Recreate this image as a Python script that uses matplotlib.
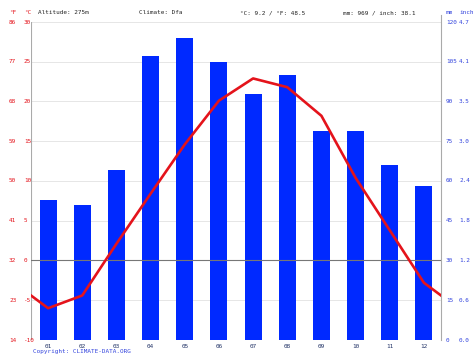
import numpy as np
import matplotlib
matplotlib.use("Agg")
import matplotlib.pyplot as plt

# monthly climate values
months = ["01", "02", "03", "04", "05", "06", "07", "08", "09", "10", "11", "12"]
precip_mm = [53, 51, 64, 107, 114, 105, 93, 100, 79, 79, 66, 58]
temp_c = [-6.0, -4.4, 2.1, 8.4, 14.6, 20.1, 22.9, 21.8, 18.2, 10.4, 3.8, -2.8]

c_ticks = [-10, -5, 0, 5, 10, 15, 20, 25, 30]
f_labels = ["14", "23", "32", "41", "50", "59", "68", "77", "86"]
mm_ticks = [0, 15, 30, 45, 60, 75, 90, 105, 120]
inch_labels = ["0.0", "0.6", "1.2", "1.8", "2.4", "3.0", "3.5", "4.1", "4.7"]

header = ["Altitude: 275m", "Climate: Dfa", "°C: 9.2 / °F: 48.5", "mm: 969 / inch: 38.1"]

RED = "#e4131b"
BLUE = "#0029ff"
LBLUE = "#3344dd"
FONT = "DejaVu Sans Mono"
FS = 4.3

fig = plt.figure(figsize=(4.74, 3.55), dpi=100, facecolor="white")
axp = fig.add_axes([31 / 474, 1 - 340 / 355, 410 / 474, 318 / 355])
axt = axp.twinx()
axp.set_zorder(1)
axt.set_zorder(2)
axt.patch.set_visible(False)

x = np.arange(1, 13)
axp.bar(x, precip_mm, width=0.5, color=BLUE, zorder=2)
axp.set_ylim(0, 120)
axp.set_xlim(0.5, 12.5)

# wrap the line round the year so it reaches both edges
xt = np.concatenate(([0], x, [13]))
yt = np.concatenate(([temp_c[-1]], temp_c, [temp_c[0]]))
axt.plot(xt, yt, color=RED, lw=1.9, solid_joinstyle="round", zorder=3)
axt.set_ylim(-10, 30)
axt.set_xlim(0.5, 12.5)

for ax in (axp, axt):
    ax.set_yticks([])
    ax.tick_params(length=0)
    for s in ax.spines.values():
        s.set_visible(False)

# grid lines
for c in c_ticks:
    if c == 0:
        axt.axhline(c, color="#777777", lw=0.8, zorder=1)
    else:
        axp.axhline((c + 10) * 3, color="#e2e2e2", lw=0.6, zorder=0)
axp.axvline(0.5, color="#aaaaaa", lw=0.8)
axp.plot([12.5, 12.5], [0, 122.5], color="#aaaaaa", lw=0.8, clip_on=False)

axp.set_xticks(x)
axp.set_xticklabels(months, fontsize=FS, family=FONT, color="#223366")
axp.tick_params(axis="x", pad=3)

# left labels (°F, °C) and right labels (mm, inch)
for c, f in zip(c_ticks, f_labels):
    yf = 1 - (340 - (c + 10) * 7.95) / 355
    fig.text(9 / 474, yf, f, fontsize=FS, family=FONT, color=RED, va="center")
    fig.text(24 / 474, yf, str(c), fontsize=FS, family=FONT, color=RED, va="center")
for m, i in zip(mm_ticks, inch_labels):
    yf = 1 - (340 - m * 2.65) / 355
    fig.text(446 / 474, yf, str(m), fontsize=FS, family=FONT, color=LBLUE, va="center")
    fig.text(459 / 474, yf, i, fontsize=FS, family=FONT, color=LBLUE, va="center")

ytop = 1 - 13 / 355
fig.text(9 / 474, ytop, "°F", fontsize=FS, family=FONT, color=RED, va="center")
fig.text(24 / 474, ytop, "°C", fontsize=FS, family=FONT, color=RED, va="center")
fig.text(446 / 474, ytop, "mm", fontsize=FS, family=FONT, color=LBLUE, va="center")
fig.text(459 / 474, ytop, "inch", fontsize=FS, family=FONT, color=LBLUE, va="center")
for xp, t in zip([38, 139, 240, 343], header):
    fig.text(xp / 474, ytop, t, fontsize=FS, family=FONT, color="#222222", va="center")

fig.text(33 / 474, 1 - 351 / 355, "Copyright: CLIMATE-DATA.ORG", fontsize=FS,
         family=FONT, color=LBLUE, va="center")

fig.savefig("out.png", dpi=100, facecolor="white")
